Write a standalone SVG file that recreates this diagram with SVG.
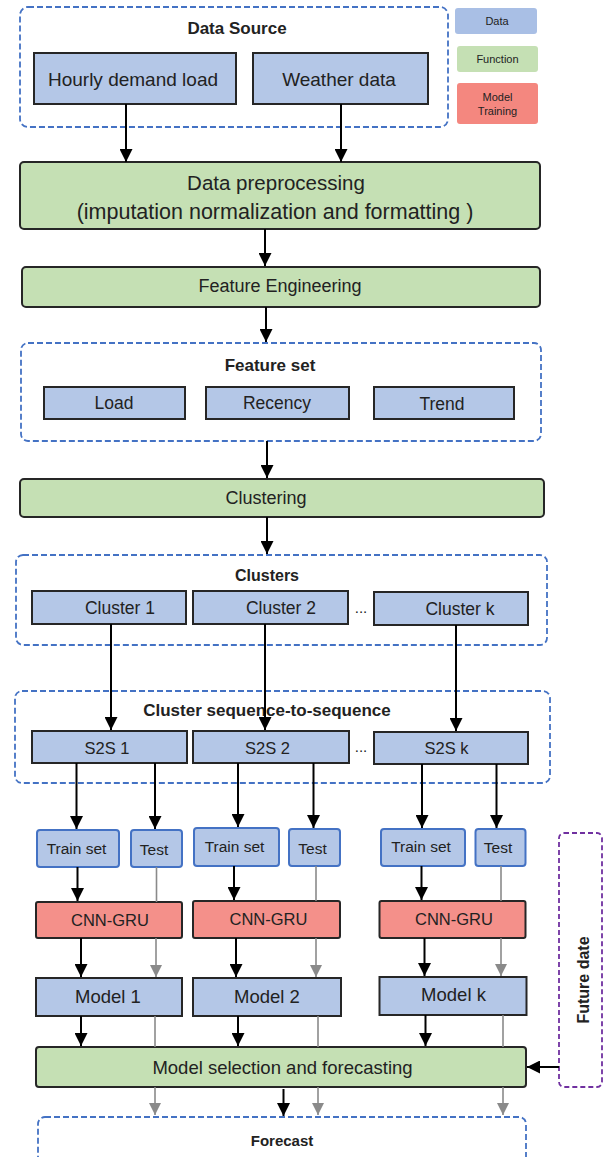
<svg xmlns="http://www.w3.org/2000/svg" width="605" height="1157" viewBox="0 0 605 1157">
<defs>
<marker id="abk" viewBox="0 0 10 10" refX="10" refY="5" markerWidth="13" markerHeight="13" orient="auto" markerUnits="userSpaceOnUse">
<path d="M0,0 L10,5 L0,10 z" fill="#000"/>
</marker>
<marker id="agr" viewBox="0 0 10 10" refX="10" refY="5" markerWidth="12" markerHeight="12" orient="auto" markerUnits="userSpaceOnUse">
<path d="M0,0 L10,5 L0,10 z" fill="#8a8a8a"/>
</marker>
</defs>
<style>
text{font-family:"Liberation Sans",Arial,sans-serif;fill:#222;text-anchor:middle;dominant-baseline:central}
.b{font-weight:bold}
.grp{fill:#fff;stroke:#4472c4;stroke-width:1.8;stroke-dasharray:6,3}
.data{fill:#b4c7e7;stroke:#262626;stroke-width:2}
.fn{fill:#c5e0b4;stroke:#262626;stroke-width:2}
.mdl{fill:#f4908a;stroke:#262626;stroke-width:2}
.set{fill:#b4c7e7;stroke:#4472c4;stroke-width:2}
.lg1{fill:#a9bfe5}
.lg2{fill:#c5e0b4}
.lg3{fill:#f4877f}
.k{stroke:#000;stroke-width:2;fill:none;marker-end:url(#abk)}
.g{stroke:#8a8a8a;stroke-width:1.6;fill:none}
.ga{stroke:#8a8a8a;stroke-width:1.6;fill:none;marker-end:url(#agr)}
</style>
<rect width="605" height="1157" fill="#fff"/>

<g id="legend">
<rect class="lg1" x="455" y="8" width="82" height="26" rx="3"/>
<text x="497" y="21" font-size="11">Data</text>
<rect class="lg2" x="457" y="46" width="81" height="26" rx="3"/>
<text x="497.5" y="59" font-size="11">Function</text>
<rect class="lg3" x="457" y="83" width="81" height="41" rx="3"/>
<text x="497.5" y="97" font-size="11">Model</text>
<text x="497.5" y="111" font-size="11">Training</text>
</g>

<g id="data-source">
<rect class="grp" x="20" y="7" width="428" height="120" rx="8"/>
<text class="b" x="237" y="28" font-size="17">Data Source</text>
</g>
<g id="hourly"><rect class="data" x="34" y="53" width="202" height="51"/><text x="133" y="79" font-size="19">Hourly  demand load</text></g>
<g id="weather"><rect class="data" x="253" y="53" width="175" height="51"/><text x="339" y="79" font-size="19">Weather data</text></g>

<g id="preprocessing"><rect class="fn" x="20" y="162" width="520" height="67" rx="4"/>
<text x="276" y="182" font-size="20.5">Data preprocessing</text>
<text x="275" y="212" font-size="21.5">(imputation normalization and formatting )</text></g>

<g id="feature-eng"><rect class="fn" x="22" y="267" width="518" height="40" rx="4"/><text x="280" y="286" font-size="18">Feature Engineering</text></g>

<g id="feature-set">
<rect class="grp" x="21" y="343" width="520" height="98" rx="7"/>
<text class="b" x="270" y="365" font-size="17">Feature set</text>
</g>
<g id="load"><rect class="data" x="44" y="387" width="141" height="32"/><text x="114" y="403" font-size="17.5">Load</text></g>
<g id="recency"><rect class="data" x="206" y="387" width="143" height="32"/><text x="277" y="403" font-size="17.5">Recency</text></g>
<g id="trend"><rect class="data" x="374" y="387" width="140" height="32"/><text x="442" y="404" font-size="17.5">Trend</text></g>

<g id="clustering"><rect class="fn" x="20" y="479" width="524" height="38" rx="4"/><text x="266" y="498" font-size="18">Clustering</text></g>

<g id="clusters">
<rect class="grp" x="16" y="555" width="531" height="90" rx="7"/>
<text class="b" x="267" y="575" font-size="16">Clusters</text>
<text x="361" y="607" font-size="15">...</text>
</g>
<g id="cluster1"><rect class="data" x="32" y="591" width="154" height="33"/><text x="120" y="608" font-size="17.5">Cluster 1</text></g>
<g id="cluster2"><rect class="data" x="193" y="591" width="155" height="33"/><text x="281" y="608" font-size="17.5">Cluster 2</text></g>
<g id="clusterk"><rect class="data" x="374" y="592" width="154" height="33"/><text x="460" y="609" font-size="17.5">Cluster k</text></g>

<g id="s2s-group">
<rect class="grp" x="15" y="691" width="535" height="92" rx="7"/>
<text class="b" x="267" y="710" font-size="17">Cluster sequence-to-sequence</text>
<text x="361" y="746" font-size="15">...</text>
</g>
<g id="s2s1"><rect class="data" x="32" y="731" width="155" height="32"/><text x="107" y="748" font-size="16.5">S2S 1</text></g>
<g id="s2s2"><rect class="data" x="193" y="731" width="156" height="32"/><text x="267.5" y="748" font-size="16.5">S2S 2</text></g>
<g id="s2sk"><rect class="data" x="374" y="732" width="154" height="32"/><text x="446.5" y="748" font-size="16.5">S2S k</text></g>

<g id="train1"><rect class="set" x="37" y="830" width="82" height="37" rx="3"/><text x="76.5" y="848" font-size="15.5">Train set</text></g>
<g id="test1"><rect class="set" x="131" y="830" width="51" height="37" rx="3"/><text x="154" y="849" font-size="15.5">Test</text></g>
<g id="train2"><rect class="set" x="194" y="828" width="85" height="38" rx="3"/><text x="234.5" y="846" font-size="15.5">Train set</text></g>
<g id="test2"><rect class="set" x="289" y="829" width="51" height="37" rx="3"/><text x="312.5" y="848" font-size="15.5">Test</text></g>
<g id="train3"><rect class="set" x="381" y="829" width="84" height="37" rx="3"/><text x="421" y="846" font-size="15.5">Train set</text></g>
<g id="test3"><rect class="set" x="475.5" y="829" width="50" height="37" rx="3"/><text x="498" y="847" font-size="15.5">Test</text></g>

<g id="cnn1"><rect class="mdl" x="36" y="902" width="146" height="36" rx="2"/><text x="110" y="920" font-size="16.5">CNN-GRU</text></g>
<g id="cnn2"><rect class="mdl" x="193" y="901" width="147" height="37" rx="2"/><text x="268.5" y="919" font-size="16.5">CNN-GRU</text></g>
<g id="cnn3"><rect class="mdl" x="379.5" y="901" width="146" height="37" rx="2"/><text x="454" y="919" font-size="16.5">CNN-GRU</text></g>

<g id="model1"><rect class="data" x="36" y="978" width="146" height="38"/><text x="108" y="996" font-size="18.5">Model 1</text></g>
<g id="model2"><rect class="data" x="193" y="978" width="148" height="38"/><text x="267" y="996" font-size="18.5">Model 2</text></g>
<g id="modelk"><rect class="data" x="379.5" y="977" width="147" height="38"/><text x="453.5" y="994" font-size="18.5">Model k</text></g>

<g id="selection"><rect class="fn" x="36" y="1047" width="490" height="40" rx="3"/><text x="282.5" y="1067" font-size="18.5">Model selection and forecasting</text></g>

<g id="future-date">
<rect x="559" y="833" width="43" height="254" rx="5" fill="#fff" stroke="#7030a0" stroke-width="1.8" stroke-dasharray="5,3"/>
<text class="b" x="583" y="980" font-size="16" transform="rotate(-90 583 980)">Future date</text>
</g>

<g id="forecast">
<rect class="grp" x="38" y="1117" width="488" height="60" rx="7"/>
<text class="b" x="282" y="1140" font-size="15">Forecast</text>
</g>

<g id="connectors">
<line class="k" x1="126" y1="104" x2="126" y2="162"/>
<line class="k" x1="341" y1="104" x2="341" y2="162"/>
<line class="k" x1="265" y1="229" x2="265" y2="266"/>
<line class="k" x1="266" y1="307" x2="266" y2="342"/>
<line class="k" x1="267" y1="441" x2="267" y2="478"/>
<line class="k" x1="267" y1="517" x2="267" y2="554"/>
<line class="k" x1="111" y1="624" x2="111" y2="730"/>
<line class="k" x1="265" y1="624" x2="265" y2="730"/>
<line class="k" x1="456" y1="625" x2="456" y2="731"/>
<line class="k" x1="76.5" y1="763" x2="76.5" y2="829"/>
<line class="k" x1="155" y1="763" x2="155" y2="829"/>
<line class="k" x1="238" y1="763" x2="238" y2="827"/>
<line class="k" x1="313.5" y1="763" x2="313.5" y2="828"/>
<line class="k" x1="422" y1="764" x2="422" y2="828"/>
<line class="k" x1="496.5" y1="764" x2="496.5" y2="828"/>
<line class="k" x1="77.5" y1="867" x2="77.5" y2="901"/>
<line class="g" x1="156.5" y1="867" x2="156.5" y2="902"/>
<line class="k" x1="234" y1="866" x2="234" y2="900"/>
<line class="g" x1="316" y1="866" x2="316" y2="901"/>
<line class="k" x1="421.5" y1="866" x2="421.5" y2="900"/>
<line class="g" x1="501" y1="866" x2="501" y2="901"/>
<line class="k" x1="81" y1="938" x2="81" y2="977"/>
<line class="ga" x1="156" y1="938" x2="156" y2="977"/>
<line class="k" x1="236" y1="938" x2="236" y2="977"/>
<line class="ga" x1="316" y1="938" x2="316" y2="977"/>
<line class="k" x1="424.5" y1="938" x2="424.5" y2="976"/>
<line class="ga" x1="501" y1="938" x2="501" y2="976"/>
<line class="k" x1="81" y1="1016" x2="81" y2="1046"/>
<line class="g" x1="155" y1="1016" x2="155" y2="1047"/>
<line class="k" x1="238" y1="1016" x2="238" y2="1046"/>
<line class="g" x1="318" y1="1016" x2="318" y2="1047"/>
<line class="k" x1="425.5" y1="1015" x2="425.5" y2="1046"/>
<line class="g" x1="503" y1="1015" x2="503" y2="1047"/>
<line class="ga" x1="155" y1="1087" x2="155" y2="1115"/>
<line class="k" x1="283.5" y1="1089" x2="283.5" y2="1116"/>
<line class="ga" x1="318" y1="1087" x2="318" y2="1115"/>
<line class="ga" x1="503" y1="1087" x2="503" y2="1115"/>
<line class="k" x1="559" y1="1067" x2="527" y2="1067"/>
</g>
</svg>
